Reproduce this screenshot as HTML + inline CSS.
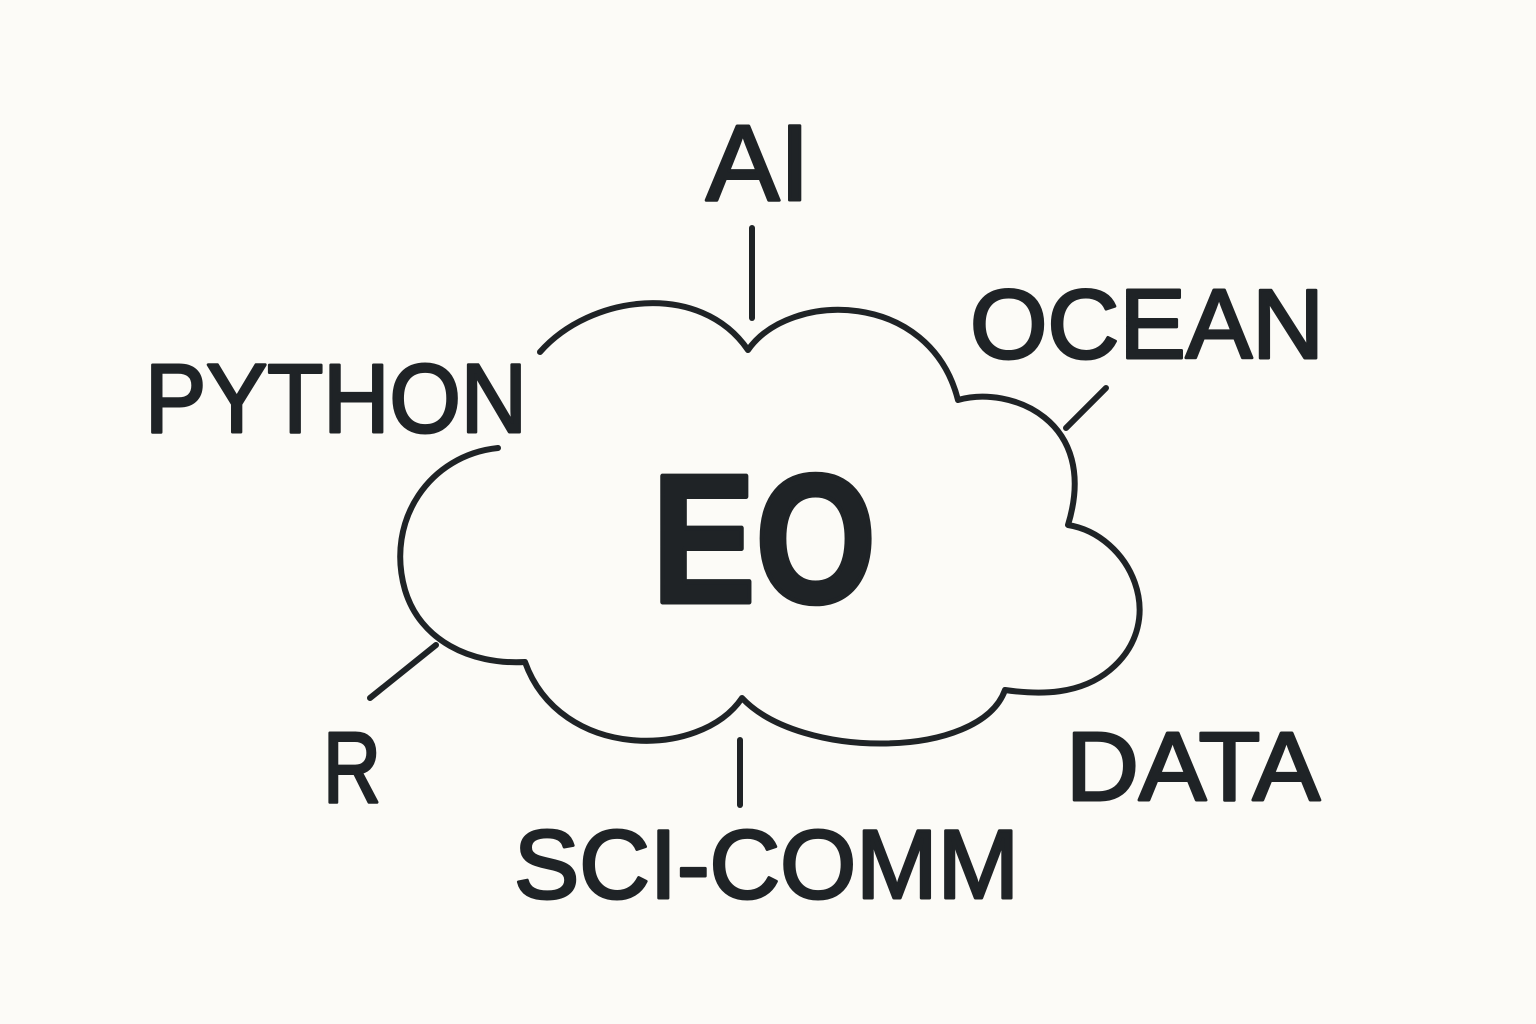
<!DOCTYPE html>
<html><head><meta charset="utf-8"><style>
html,body{margin:0;padding:0;background:#fcfbf7;}
svg{display:block}
text{font-family:"Liberation Sans",sans-serif;font-weight:normal;fill:#1f2326;stroke:#1f2326;stroke-width:3;stroke-linejoin:round;}
</style></head><body>
<svg width="1536" height="1024" viewBox="0 0 1536 1024" xmlns="http://www.w3.org/2000/svg">
<rect width="1536" height="1024" fill="#fcfbf7"/>
<g fill="none" stroke="#1f2326" stroke-width="6" stroke-linecap="round" stroke-linejoin="round">
<path d="M540,352 C590,295 700,280 748,350 C790,290 930,290 958,400 C1010,385 1100,420 1068,525 C1130,535 1170,620 1110,670 C1080,695 1040,695 1005,690 C980,760 800,760 742,698 C700,760 560,760 525,662 C470,665 420,640 405,590 C385,520 430,455 498,448"/>
<line x1="752" y1="228" x2="752" y2="318"/>
<line x1="1106" y1="388" x2="1066" y2="428"/>
<line x1="436" y1="645" x2="370" y2="698"/>
<line x1="740" y1="740" x2="740" y2="805"/>
</g>
<text x="706" y="200" font-size="108" textLength="104" lengthAdjust="spacingAndGlyphs">AI</text>
<text x="145" y="432" font-size="97" textLength="382" lengthAdjust="spacingAndGlyphs">PYTHON</text>
<text x="970" y="358" font-size="98" textLength="354" lengthAdjust="spacingAndGlyphs">OCEAN</text>
<text x="652" y="602" font-size="183" textLength="224" lengthAdjust="spacingAndGlyphs" style="font-weight:bold;stroke-width:5">EO</text>
<text x="323" y="802" font-size="100" textLength="58" lengthAdjust="spacingAndGlyphs">R</text>
<text x="1066" y="800" font-size="97" textLength="254" lengthAdjust="spacingAndGlyphs">DATA</text>
<text x="514" y="898" font-size="97" textLength="505" lengthAdjust="spacingAndGlyphs">SCI-COMM</text>
</svg>
</body></html>
